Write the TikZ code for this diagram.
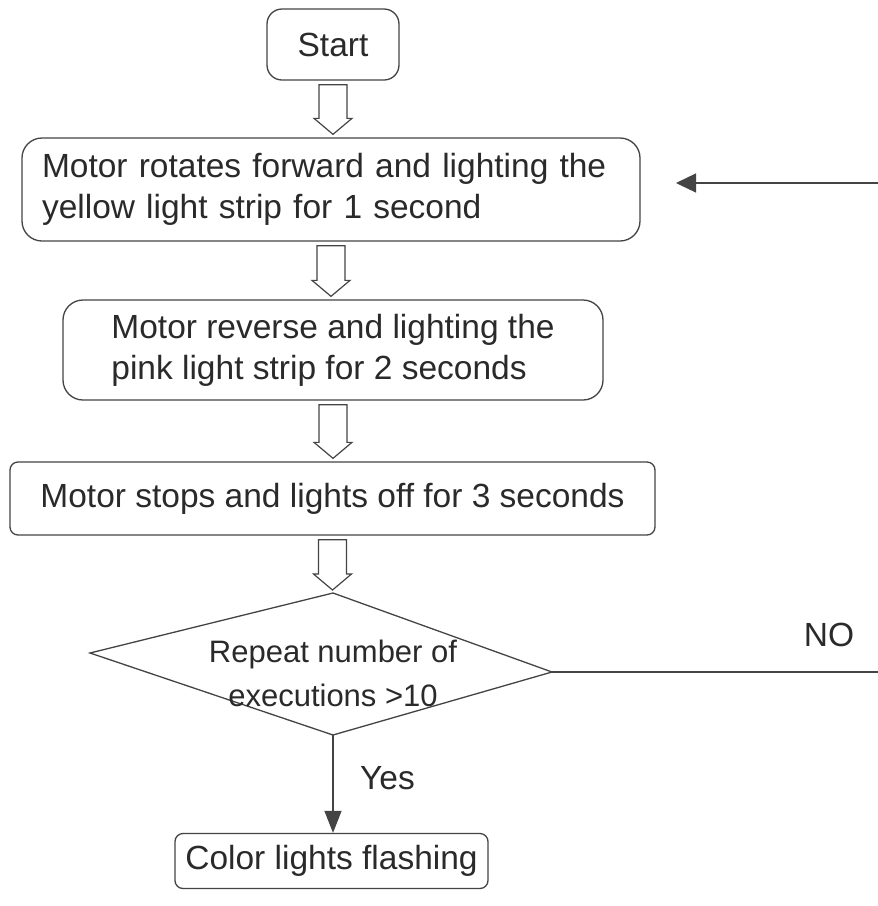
\documentclass[tikz,border=0pt]{standalone}
\usepackage{fontspec}
\setmainfont{Liberation Sans}
\usetikzlibrary{arrows.meta,calc}
\definecolor{ln}{HTML}{444444}
\definecolor{tx}{HTML}{2A2A2A}
\tikzset{
  box/.style={draw=ln, line width=1.3pt, text=tx, inner sep=0pt,
    font=\fontsize{33.5}{41}\selectfont},
  hollow/.style={draw=ln, line width=1.2pt, fill=white, line join=miter},
  conn/.style={draw=ln, line width=1.3pt},
  lbl/.style={text=tx, font=\fontsize{33.5}{41}\selectfont, inner sep=0pt}
}
\newcommand{\harrow}[2]{%
  \path[hollow] let \p1=(#1.south), \p2=(#2) in
    (\x1-14pt,\y1-4pt) -- (\x1+14pt,\y1-4pt) -- (\x1+14pt,\y2+19pt)
    -- (\x1+19pt,\y2+19pt) -- (\x1,\y2+3pt) -- (\x1-19pt,\y2+19pt)
    -- (\x1-14pt,\y2+19pt) -- cycle;}
\begin{document}
\begin{tikzpicture}[x=1pt,y=-1pt]
\useasboundingbox[fill=white] (0,0) rectangle (878,906);
\node[box, rounded corners=15pt, minimum width=132pt, minimum height=71pt] (start) at (333,44.5) {Start};
\node[box, rounded corners=20pt, minimum width=618pt, minimum height=103pt,
  text width=578pt, align=left] (b1) at (331,189.5)
  {Motor rotates forward and lighting the\\yellow light strip for 1 second};
\node[box, rounded corners=20pt, minimum width=540pt, minimum height=100pt,
  align=left] (b2) at (333,350)
  {Motor reverse and lighting the\\pink light strip for 2 seconds};
\node[box, rounded corners=8pt, minimum width=645pt, minimum height=73pt] (b3) at (332.5,498.5)
  {Motor stops and lights off for 3 seconds};
\coordinate (dtop) at (333,593);
\coordinate (dright) at (552,672);
\coordinate (dbot) at (333,735);
\coordinate (dleft) at (90,653);
\draw[conn] (dtop) -- (dright) -- (dbot) -- (dleft) -- cycle;
\node[lbl, align=center, font=\fontsize{31}{44}\selectfont] (dec) at (333,673) {Repeat number of\\executions >10};
\node[box, rounded corners=8pt, minimum width=313pt, minimum height=55pt] (fin) at (331.5,861)
  {Color lights flashing};
\harrow{start}{b1.north}
\harrow{b1}{b2.north}
\harrow{b2}{b3.north}
\harrow{b3}{dtop}
\draw[conn, -{Triangle[length=22pt,width=17pt]}] (dbot) -- (dbot |- fin.north);
\node[lbl, anchor=west] (yes) at (360,778) {Yes};
\coordinate (eR) at (878,672);
\coordinate (eT) at (878,183);
\coordinate (loopend) at (676,183);
\draw[conn] (dright) -- (eR);
\draw[conn, -{Triangle[length=20pt,width=19pt]}] (eT) -- (loopend);
\node[lbl] (no) at (829,635) {NO};
\end{tikzpicture}
\end{document}
